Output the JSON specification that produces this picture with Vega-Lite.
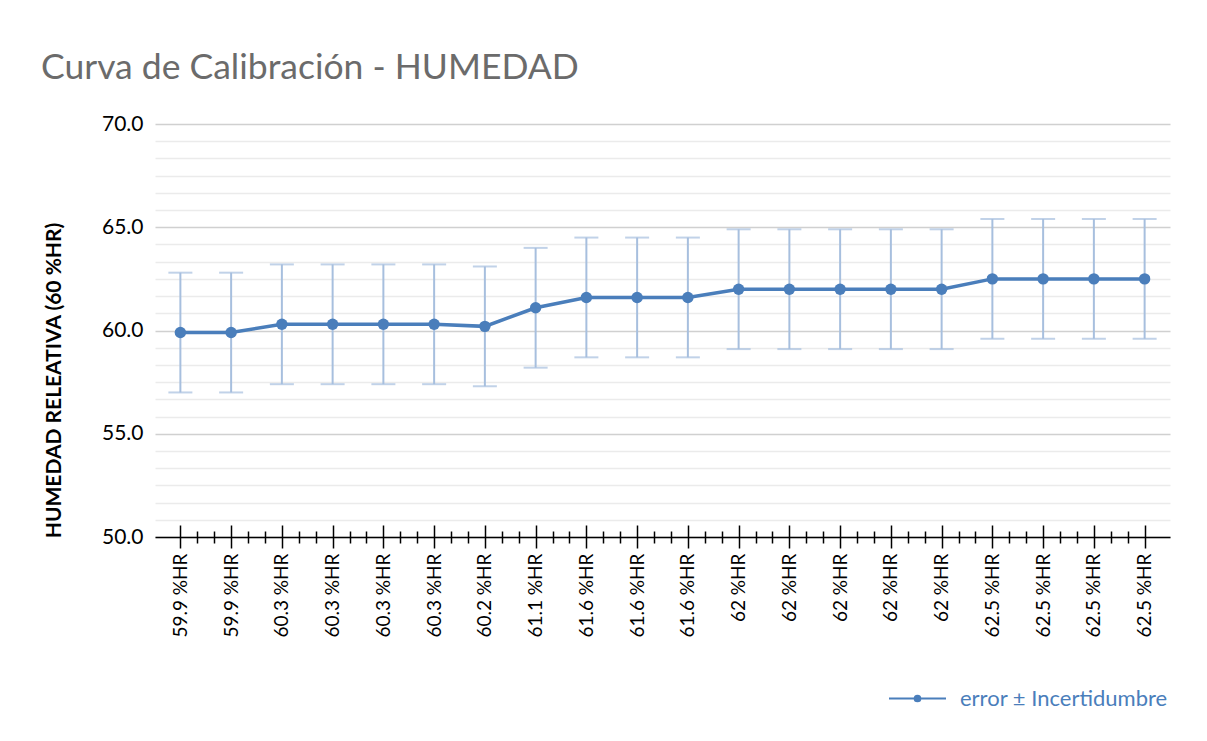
{
  "$schema": "https://vega.github.io/schema/vega-lite/v6.json",
  "width": 1015,
  "height": 413,
  "autosize": {"type": "none"},
  "padding": {"left": 155, "top": 124, "right": 37, "bottom": 204},
  "background": "white",
  "config": {
    "view": {"stroke": null},
    "font": "Lato"
  },
  "title": {
    "text": "Curva de Calibración - HUMEDAD",
    "anchor": "start",
    "frame": "group",
    "dx": -114,
    "offset": 27,
    "fontSize": 35.5,
    "font": "Lato",
    "fontWeight": "normal",
    "color": "#6b6b6b"
  },
  "data": {
    "values": [
      {"i": 1, "label": "59.9 %HR", "v": 59.9, "lo": 57.0, "hi": 62.8},
      {"i": 2, "label": "59.9 %HR", "v": 59.9, "lo": 57.0, "hi": 62.8},
      {"i": 3, "label": "60.3 %HR", "v": 60.3, "lo": 57.4, "hi": 63.2},
      {"i": 4, "label": "60.3 %HR", "v": 60.3, "lo": 57.4, "hi": 63.2},
      {"i": 5, "label": "60.3 %HR", "v": 60.3, "lo": 57.4, "hi": 63.2},
      {"i": 6, "label": "60.3 %HR", "v": 60.3, "lo": 57.4, "hi": 63.2},
      {"i": 7, "label": "60.2 %HR", "v": 60.2, "lo": 57.3, "hi": 63.1},
      {"i": 8, "label": "61.1 %HR", "v": 61.1, "lo": 58.2, "hi": 64.0},
      {"i": 9, "label": "61.6 %HR", "v": 61.6, "lo": 58.7, "hi": 64.5},
      {"i": 10, "label": "61.6 %HR", "v": 61.6, "lo": 58.7, "hi": 64.5},
      {"i": 11, "label": "61.6 %HR", "v": 61.6, "lo": 58.7, "hi": 64.5},
      {"i": 12, "label": "62 %HR", "v": 62.0, "lo": 59.1, "hi": 64.9},
      {"i": 13, "label": "62 %HR", "v": 62.0, "lo": 59.1, "hi": 64.9},
      {"i": 14, "label": "62 %HR", "v": 62.0, "lo": 59.1, "hi": 64.9},
      {"i": 15, "label": "62 %HR", "v": 62.0, "lo": 59.1, "hi": 64.9},
      {"i": 16, "label": "62 %HR", "v": 62.0, "lo": 59.1, "hi": 64.9},
      {"i": 17, "label": "62.5 %HR", "v": 62.5, "lo": 59.6, "hi": 65.4},
      {"i": 18, "label": "62.5 %HR", "v": 62.5, "lo": 59.6, "hi": 65.4},
      {"i": 19, "label": "62.5 %HR", "v": 62.5, "lo": 59.6, "hi": 65.4},
      {"i": 20, "label": "62.5 %HR", "v": 62.5, "lo": 59.6, "hi": 65.4}
    ]
  },
  "resolve": {"axis": {"x": "independent", "y": "independent"}},
  "layer": [
    {
      "mark": {"type": "rule", "color": "#a7bfde", "strokeWidth": 2},
      "encoding": {
        "x": {
          "field": "i", "type": "quantitative",
          "scale": {"domain": [0.5, 20.5], "nice": false, "zero": false},
          "axis": {
            "orient": "bottom",
            "title": null,
            "grid": false,
            "values": [1,1.3333,1.6667,2,2.3333,2.6667,3,3.3333,3.6667,4,4.3333,4.6667,5,5.3333,5.6667,6,6.3333,6.6667,7,7.3333,7.6667,8,8.3333,8.6667,9,9.3333,9.6667,10,10.3333,10.6667,11,11.3333,11.6667,12,12.3333,12.6667,13,13.3333,13.6667,14,14.3333,14.6667,15,15.3333,15.6667,16,16.3333,16.6667,17,17.3333,17.6667,18,18.3333,18.6667,19,19.3333,19.6667,20],
            "domainColor": "#000000",
            "domainWidth": 1.5,
            "tickColor": "#000000",
            "tickWidth": 1.5,
            "tickSize": {"condition": {"test": "abs(datum.value - round(datum.value)) < 0.01", "value": 11}, "value": 6},
            "labelExpr": "abs(datum.value - round(datum.value)) < 0.01 ? ['59.9 %HR','59.9 %HR','60.3 %HR','60.3 %HR','60.3 %HR','60.3 %HR','60.2 %HR','61.1 %HR','61.6 %HR','61.6 %HR','61.6 %HR','62 %HR','62 %HR','62 %HR','62 %HR','62 %HR','62.5 %HR','62.5 %HR','62.5 %HR','62.5 %HR'][round(datum.value) - 1] : ''",
            "labelAngle": -90,
            "labelFontSize": 19,
            "labelColor": "#000000",
            "labelPadding": 5,
            "labelOverlap": false,
            "labelBound": false,
            "labelFlush": false
          }
        },
        "y": {
          "field": "lo", "type": "quantitative",
          "scale": {"domain": [50, 70], "nice": false, "zero": false},
          "axis": {
            "title": "HUMEDAD RELEATIVA (60 %HR)",
            "titleFontSize": 21,
            "titleFontWeight": "bold",
            "titleColor": "#000000",
            "titleX": -101,
            "titleY": 256,
            "titleAngle": -90,
            "titleBaseline": "middle",
            "titleAlign": "center",
            "values": [50,50.8333,51.6667,52.5,53.3333,54.1667,55,55.8333,56.6667,57.5,58.3333,59.1667,60,60.8333,61.6667,62.5,63.3333,64.1667,65,65.8333,66.6667,67.5,68.3333,69.1667,70],
            "domain": false,
            "ticks": false,
            "grid": true,
            "gridColor": {"condition": {"test": "abs(datum.value % 5) < 0.01", "value": "#d0d0d0"}, "value": "#ebebeb"},
            "gridWidth": 1.5,
            "labelExpr": "abs(datum.value % 5) < 0.01 ? format(datum.value, '.1f') : ''",
            "labelFontSize": 21,
            "labelColor": "#000000",
            "labelPadding": 12
          }
        },
        "y2": {"field": "hi"}
      }
    },
    {
      "mark": {"type": "tick", "color": "#a7bfde", "thickness": 2, "size": 24, "orient": "horizontal"},
      "encoding": {
        "x": {
          "field": "i", "type": "quantitative",
          "axis": {
            "orient": "top",
            "offset": -413,
            "title": null,
            "grid": false,
            "domain": false,
            "labels": false,
            "values": [1,1.3333,1.6667,2,2.3333,2.6667,3,3.3333,3.6667,4,4.3333,4.6667,5,5.3333,5.6667,6,6.3333,6.6667,7,7.3333,7.6667,8,8.3333,8.6667,9,9.3333,9.6667,10,10.3333,10.6667,11,11.3333,11.6667,12,12.3333,12.6667,13,13.3333,13.6667,14,14.3333,14.6667,15,15.3333,15.6667,16,16.3333,16.6667,17,17.3333,17.6667,18,18.3333,18.6667,19,19.3333,19.6667,20],
            "tickColor": "#000000",
            "tickWidth": 1.5,
            "tickSize": {"condition": {"test": "abs(datum.value - round(datum.value)) < 0.01", "value": 12}, "value": 6}
          }
        },
        "y": {"field": "lo", "type": "quantitative", "axis": null}
      }
    },
    {
      "mark": {"type": "tick", "color": "#a7bfde", "thickness": 2, "size": 24, "orient": "horizontal"},
      "encoding": {
        "x": {"field": "i", "type": "quantitative", "axis": null},
        "y": {"field": "hi", "type": "quantitative", "axis": null}
      }
    },
    {
      "mark": {"type": "line", "strokeWidth": 3.5},
      "encoding": {
        "x": {"field": "i", "type": "quantitative", "axis": null},
        "y": {"field": "v", "type": "quantitative", "axis": null},
        "color": {
          "datum": "error ± Incertidumbre",
          "scale": {"range": ["#4a7ebb"]},
          "legend": {
            "title": null,
            "orient": "none",
            "legendX": 733,
            "legendY": 545,
            "padding": 0,
            "symbolType": "M-1,0L1,0M-0.1,0A0.1,0.1,0,1,1,0.1,0A0.1,0.1,0,1,1,-0.1,0Z",
            "symbolSize": 3249,
            "symbolStrokeWidth": 2,
            "symbolFillColor": "#4a7ebb",
            "symbolStrokeColor": "#4a7ebb",
            "labelFontSize": 22,
            "labelLimit": 400,
            "labelColor": "#4a7ebb",
            "labelOffset": 13
          }
        }
      }
    },
    {
      "mark": {"type": "point", "filled": true, "size": 130, "opacity": 1, "color": "#4a7ebb"},
      "encoding": {
        "x": {"field": "i", "type": "quantitative", "axis": null},
        "y": {"field": "v", "type": "quantitative", "axis": null}
      }
    }
  ]
}
